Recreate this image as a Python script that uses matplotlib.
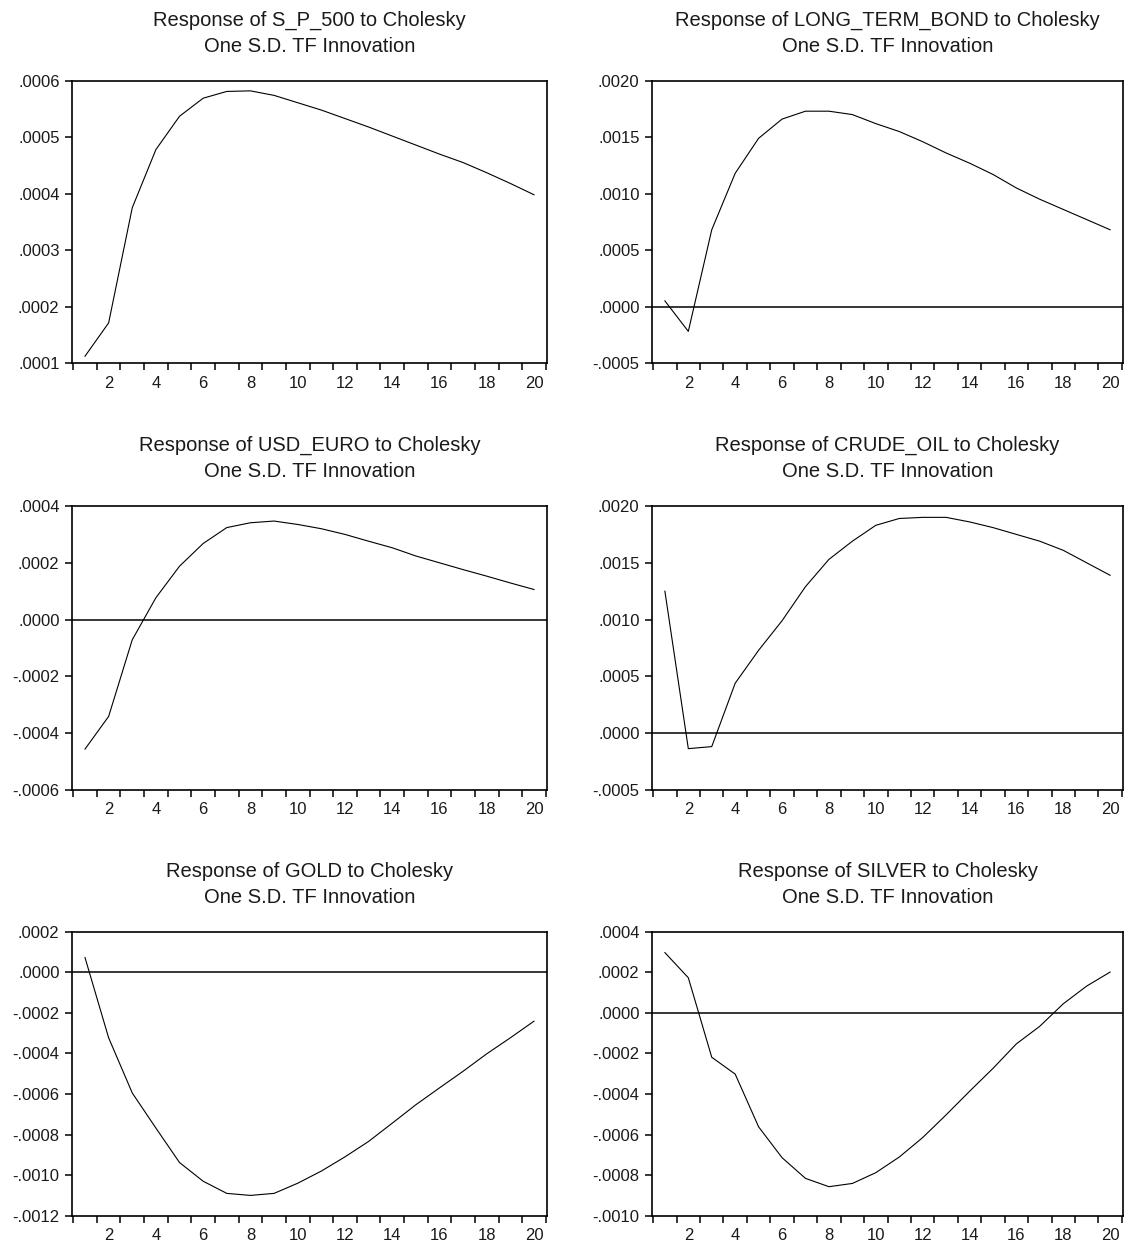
import numpy as np
import matplotlib
matplotlib.use("Agg")
import matplotlib.pyplot as plt
from matplotlib.ticker import FuncFormatter

plt.rcParams['font.family'] = ['Liberation Sans', 'DejaVu Sans']

periods = np.arange(1, 21)

# responses, one per panel
sp500 = [0.000112, 0.000171, 0.000375, 0.000478, 0.000537, 0.000569, 0.000581, 0.000582,
         0.000574, 0.000561, 0.000548, 0.000533, 0.000518, 0.000502, 0.000486, 0.000470,
         0.000455, 0.000437, 0.000418, 0.000398]
long_bond = [0.00005, -0.00022, 0.00068, 0.00118, 0.00149, 0.00166, 0.00173, 0.00173,
             0.00170, 0.00162, 0.00155, 0.00146, 0.00136, 0.00127, 0.00117, 0.00105,
             0.00095, 0.00086, 0.00077, 0.00068]
usd_euro = [-0.000456, -0.000341, -0.000071, 0.000077, 0.000188, 0.000268, 0.000324, 0.000341,
            0.000347, 0.000335, 0.000320, 0.000300, 0.000276, 0.000253, 0.000224, 0.000200,
            0.000176, 0.000153, 0.000129, 0.000106]
crude_oil = [0.00125, -0.000136, -0.000118, 0.00044, 0.00073, 0.00099, 0.00129, 0.00153,
             0.00169, 0.00183, 0.00189, 0.00190, 0.00190, 0.00186, 0.00181, 0.00175,
             0.00169, 0.00161, 0.00150, 0.00139]
gold = [0.0000725, -0.000323, -0.000595, -0.000768, -0.000938, -0.00103, -0.00109, -0.00110,
        -0.00109, -0.00104, -0.00098, -0.00091, -0.000834, -0.000744, -0.000653, -0.00057,
        -0.000488, -0.000402, -0.000323, -0.000241]
silver = [0.000297, 0.000173, -0.000219, -0.000302, -0.000562, -0.000714, -0.000816, -0.000857,
          -0.000841, -0.000788, -0.000711, -0.000615, -0.000503, -0.000387, -0.000274, -0.000153,
          -0.000066, 0.0000445, 0.000132, 0.000201]

names = ["S_P_500", "LONG_TERM_BOND", "USD_EURO", "CRUDE_OIL", "GOLD", "SILVER"]
series = [sp500, long_bond, usd_euro, crude_oil, gold, silver]
y_ranges = [(0.0001, 0.0006, 0.0001), (-0.0005, 0.0020, 0.0005), (-0.0006, 0.0004, 0.0002),
            (-0.0005, 0.0020, 0.0005), (-0.0012, 0.0002, 0.0002), (-0.0010, 0.0004, 0.0002)]


def eviews_fmt(v, pos):
    s = f"{v:.4f}"
    if s.startswith("-0."):
        return "-" + s[2:]
    if s.startswith("0."):
        return s[1:]
    return s


W, H = 1124, 1246
fig = plt.figure(figsize=(W / 100, H / 100), dpi=100)
txt = '#1a1a1a'

# axes boxes in pixels: left, right, top, bottom
cols = [(72, 547), (652, 1123)]
rows = [(80.7, 363), (506, 790), (931.7, 1215.7)]

for i, (name, vals, (lo, hi, step)) in enumerate(zip(names, series, y_ranges)):
    l, r = cols[i % 2]
    t, b = rows[i // 2]
    ax = fig.add_axes([l / W, 1 - b / H, (r - l) / W, (b - t) / H])
    ax.plot(periods, vals, color='black', lw=0.8)
    if lo < 0 < hi:
        ax.axhline(0, color='black', lw=1.1)
    ax.set_xlim(0.45, 20.55)
    ax.set_ylim(lo, hi)
    ax.set_yticks(np.arange(lo, hi + step / 2, step))
    ax.yaxis.set_major_formatter(FuncFormatter(eviews_fmt))
    ax.set_xticks(range(2, 21, 2))
    ax.set_xticks(np.arange(0.5, 21, 1), minor=True)
    ax.tick_params(axis='x', which='major', length=0, pad=9, labelsize=12, labelcolor=txt)
    ax.tick_params(axis='x', which='minor', length=5, width=1.1, direction='out')
    ax.tick_params(axis='y', length=5, width=1.1, direction='out', pad=4, labelsize=12,
                   labelcolor=txt)
    for sp in ax.spines.values():
        sp.set_linewidth(1.2)
    ax.set_title(f"Response of {name} to Cholesky\nOne S.D. TF Innovation",
                 fontsize=14.5, pad=21, linespacing=1.45, color=txt)

fig.savefig("out.png", dpi=100)
